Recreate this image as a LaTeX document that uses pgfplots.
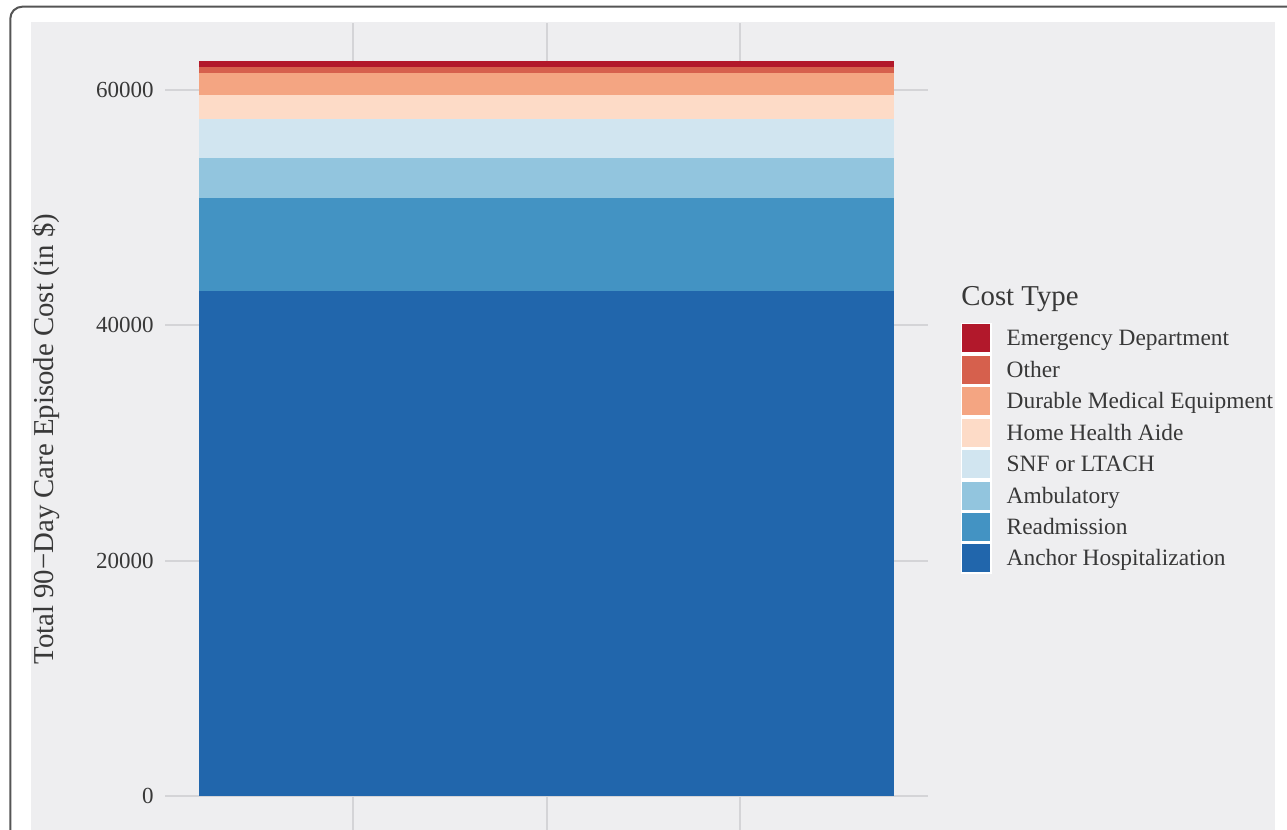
\documentclass[border=0pt]{standalone}
\usepackage{fontspec}
\setmainfont{Liberation Serif}
\usepackage{pgfplots}
\pgfplotsset{compat=1.18}
\definecolor{cED}{HTML}{B2182B}
\definecolor{cOther}{HTML}{D6604D}
\definecolor{cDME}{HTML}{F4A582}
\definecolor{cHHA}{HTML}{FDDBC7}
\definecolor{cSNF}{HTML}{D1E5F0}
\definecolor{cAmb}{HTML}{92C5DE}
\definecolor{cRead}{HTML}{4393C3}
\definecolor{cAnchor}{HTML}{2166AC}
\definecolor{bggray}{RGB}{238,238,240}
\definecolor{gridgray}{RGB}{212,212,215}
\definecolor{framegray}{RGB}{85,85,85}
\definecolor{textgray}{RGB}{56,56,56}
\begin{document}
\begin{tikzpicture}
\useasboundingbox (0,0) rectangle (643.5bp,415bp);
\clip (0,0) rectangle (643.5bp,415bp);
\fill[bggray] (15.5bp,0) rectangle (637.5bp,404bp);
\draw[line width=1bp, framegray, rounded corners=6bp] (5.15bp,-5bp) -- (5.15bp,411.65bp) -- (660bp,411.65bp);
\begin{axis}[
  at={(82.5bp,0bp)}, anchor=south west,
  scale only axis, width=381.5bp, height=403.5bp,
  xmin=0.506, xmax=1.494, ymin=-2890, ymax=65694,
  xtick={0.75,1,1.25}, xticklabels={},
  ytick={0,20000,40000,60000}, yticklabels={0,20000,40000,60000},
  xmajorgrids, ymajorgrids,
  grid style={gridgray, line width=1bp},
  axis line style={draw=none}, tick style={draw=none},
  ybar stacked, bar width=0.9,
  yticklabel style={font=\fontsize{11.5bp}{13bp}\selectfont, text=textgray, inner sep=0pt, xshift=-5.5bp},
  ylabel={Total 90−Day Care Episode Cost (in \$)},
  every axis y label/.style={at={(axis description cs:-0.1553,0.4845)}, rotate=90, anchor=center, font=\fontsize{14.4bp}{16bp}\selectfont, text=textgray, inner sep=0pt},
  reverse legend,
  legend cell align=left,
  legend style={at={(axis description cs:1.045,0.6266)}, anchor=north west, draw=none, fill=none, inner sep=0pt, outer sep=0pt, row sep=1.72bp, column sep=8.15bp, font=\fontsize{11.7bp}{13bp}\selectfont, text=textgray, nodes={inner sep=0pt, text height=0pt, text depth=0pt}},
  legend image code/.code={\fill[white, overlay] (-0.75bp,-4.1bp) rectangle (14.75bp,11.62bp); \fill[#1] (0bp,-3.24bp) rectangle (14bp,10.76bp);},
]
\addplot[fill=cAnchor, draw=none] coordinates {(1,42900)};
\addlegendentry{Anchor Hospitalization}
\addplot[fill=cRead, draw=none] coordinates {(1,7960)};
\addlegendentry{Readmission}
\addplot[fill=cAmb, draw=none] coordinates {(1,3400)};
\addlegendentry{Ambulatory}
\addplot[fill=cSNF, draw=none] coordinates {(1,3310)};
\addlegendentry{SNF or LTACH}
\addplot[fill=cHHA, draw=none] coordinates {(1,1980)};
\addlegendentry{Home Health Aide}
\addplot[fill=cDME, draw=none] coordinates {(1,1930)};
\addlegendentry{Durable Medical Equipment}
\addplot[fill=cOther, draw=none] coordinates {(1,510)};
\addlegendentry{Other}
\addplot[fill=cED, draw=none] coordinates {(1,480)};
\addlegendentry{Emergency Department}
\end{axis}
\node[anchor=base west, inner sep=0pt, font=\fontsize{14.4bp}{16bp}\selectfont, text=textgray] at (480.5bp,262.15bp) {Cost Type};
\end{tikzpicture}
\end{document}
